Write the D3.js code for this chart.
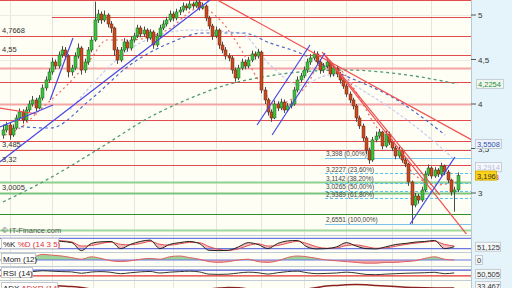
<!DOCTYPE html>
<html>
<head>
<meta charset="utf-8">
<script src="https://d3js.org/d3.v7.min.js"></script>
<style>
html, body { margin: 0; padding: 0; background: #fff; overflow: hidden; }
svg { display: block; font-family: "Liberation Sans", Arial, sans-serif; }
</style>
</head>
<body>
<svg id="chart" width="512" height="288"></svg>
<script>
// Daily candles (prices in EUR)
var opens = [3.650,3.708,3.764,3.652,3.730,3.843,3.910,3.820,3.933,4.000,
  4.045,3.955,4.067,4.180,4.270,4.360,4.472,4.427,4.551,4.607,
  4.539,4.360,4.404,4.539,4.629,4.382,4.472,4.607,4.719,4.944,
  5.011,4.944,5.000,4.899,4.854,4.607,4.494,4.607,4.697,4.629,
  4.719,4.764,4.854,4.787,4.831,4.742,4.809,4.663,4.764,4.854,
  4.899,4.944,5.011,4.966,5.034,5.056,5.101,5.079,5.124,5.101,
  5.146,5.079,5.101,4.966,4.876,4.764,4.831,4.663,4.607,4.539,
  4.517,4.382,4.292,4.404,4.472,4.427,4.494,4.562,4.539,4.584,
  4.157,4.045,3.910,3.843,4.000,3.955,4.022,3.933,3.978,4.000,
  4.157,4.270,4.315,4.382,4.472,4.517,4.562,4.472,4.382,4.427,
  4.472,4.337,4.404,4.337,4.270,4.202,4.112,4.045,3.978,3.843,
  3.753,3.618,3.483,3.371,3.596,3.640,3.685,3.528,3.663,3.573,
  3.506,3.416,3.483,3.371,3.326,3.124,2.865,2.966,2.921,3.034,
  3.213,3.281,3.191,3.258,3.213,3.303,3.236,3.146,3.011,3.034]
var closes = [3.708,3.764,3.652,3.730,3.843,3.910,3.820,3.933,4.000,4.045,
  3.955,4.067,4.180,4.270,4.360,4.472,4.427,4.551,4.607,4.539,
  4.360,4.404,4.539,4.629,4.382,4.472,4.607,4.719,4.944,5.011,
  4.944,5.000,4.899,4.854,4.607,4.494,4.607,4.697,4.629,4.719,
  4.764,4.854,4.787,4.831,4.742,4.809,4.663,4.764,4.854,4.899,
  4.944,5.011,4.966,5.034,5.056,5.101,5.079,5.124,5.101,5.146,
  5.079,5.101,4.966,4.876,4.764,4.831,4.663,4.607,4.539,4.517,
  4.382,4.292,4.404,4.472,4.427,4.494,4.562,4.539,4.584,4.157,
  4.045,3.910,3.843,4.000,3.955,4.022,3.933,3.978,4.000,4.157,
  4.270,4.315,4.382,4.472,4.517,4.562,4.472,4.382,4.427,4.472,
  4.337,4.404,4.337,4.270,4.202,4.112,4.045,3.978,3.843,3.753,
  3.618,3.483,3.371,3.596,3.640,3.685,3.528,3.663,3.573,3.506,
  3.416,3.483,3.371,3.326,3.124,2.865,2.966,2.921,3.034,3.213,
  3.281,3.191,3.258,3.213,3.303,3.236,3.146,3.011,3.034,3.196]
var highs = [3.760,3.800,3.790,3.770,3.880,3.950,3.940,3.970,4.040,4.090,
  4.070,4.100,4.220,4.310,4.400,4.520,4.500,4.590,4.650,4.640,
  4.560,4.440,4.580,4.680,4.650,4.510,4.640,4.760,5.150,5.060,
  5.040,5.050,5.020,4.930,4.870,4.640,4.640,4.740,4.720,4.760,
  4.800,4.890,4.880,4.870,4.850,4.840,4.830,4.800,4.890,4.940,
  4.980,5.050,5.040,5.070,5.090,5.140,5.130,5.160,5.150,5.180,
  5.170,5.140,5.120,4.990,4.900,4.870,4.850,4.700,4.640,4.570,
  4.540,4.410,4.440,4.510,4.500,4.530,4.600,4.590,4.620,4.600,
  4.190,4.070,3.940,4.040,4.030,4.060,4.050,4.010,4.040,4.190,
  4.310,4.350,4.420,4.510,4.560,4.600,4.590,4.500,4.460,4.510,
  4.490,4.440,4.430,4.360,4.290,4.230,4.140,4.070,4.000,3.870,
  3.780,3.640,3.510,3.630,3.690,3.720,3.700,3.700,3.690,3.600,
  3.530,3.520,3.500,3.400,3.340,3.140,3.000,2.990,3.070,3.250,
  3.320,3.300,3.290,3.280,3.340,3.320,3.260,3.160,3.070,3.230]
var lows = [3.610,3.680,3.600,3.630,3.710,3.820,3.780,3.800,3.910,3.970,
  3.920,3.940,4.040,4.150,4.240,4.330,4.390,4.400,4.520,4.500,
  4.300,4.320,4.380,4.510,4.330,4.350,4.440,4.580,4.700,4.910,
  4.900,4.920,4.860,4.800,4.540,4.450,4.470,4.580,4.590,4.600,
  4.690,4.740,4.750,4.760,4.700,4.720,4.620,4.640,4.740,4.830,
  4.870,4.920,4.930,4.940,5.000,5.030,5.050,5.060,5.070,5.080,
  5.050,5.060,4.930,4.840,4.720,4.740,4.620,4.570,4.500,4.480,
  4.340,4.250,4.270,4.380,4.390,4.400,4.470,4.500,4.510,4.120,
  4.000,3.870,3.800,3.830,3.920,3.930,3.900,3.910,3.950,3.980,
  4.130,4.240,4.290,4.350,4.440,4.490,4.440,4.340,4.350,4.400,
  4.300,4.310,4.300,4.230,4.170,4.080,4.010,3.940,3.800,3.720,
  3.580,3.440,3.330,3.350,3.570,3.610,3.490,3.510,3.540,3.470,
  3.380,3.390,3.340,3.290,3.080,2.655,2.840,2.880,2.900,3.010,
  3.190,3.160,3.170,3.180,3.190,3.200,3.110,2.970,2.790,3.010]

// month separators (candle index)
var monthIdx = [2, 15, 27.5, 40, 52, 65, 79, 92, 105, 119, 131]

// price axis
var priceTicks = [5, 4.5, 4, 3.5, 3]
var priceTickLabels = ['5', '4,5', '4', '3,5', '3']

// support / resistance levels
var redLevels = [5.17, 4.98, 4.7668, 4.55, 4.25, 3.82, 3.585, 3.485, 3.32]
var redLevelFrom = [0, 15, 0, 0, 0, 0, 0, 0, 0]
var pinkLevels = [4.40, 4.0]
var greenLevels = [3.124, 3.0005, 2.764, 2.584]
var greenColors = ['#8fd08f', '#7cc47c', '#2f8f2f', '#9ed89e']
var levelLabelPrices = [4.7668, 4.55, 3.485, 3.32, 3.0005]
var levelLabels = ['4,7668', '4,55', '3,485', '3,32', '3,0005']

// Fibonacci retracement
var fibPrices = [3.398, 3.2227, 3.1142, 3.0265, 2.9389, 2.6551]
var fibLabels = ['3,398 (0,00%)', '3,2227 (23,60%)', '3,1142 (38,20%)', '3,0265 (50,00%)', '2,9389 (61,80%)', '2,6551 (100,00%)']
var fibFrom = 98.5

// moving averages as [index, price]
var maShort = [[0.6,3.652],[5.2,3.730],[11.3,3.933],[19.6,4.213],[26.6,4.494],[31.8,4.719],[38.8,4.719],[50.2,4.831],[60.2,5.079],[66.4,4.944],[71.6,4.685],[78.6,4.236],[83.2,3.989],[87.8,4.045],[93,4.213],[96.9,4.438],[103.1,4.382],[107.6,4.157],[113.8,3.764],[119.9,3.483],[126,3.202],[132.1,3.090],[139,3.124]]
var maMid = [[0,3.764],[14.4,3.730],[26.6,4.045],[38.8,4.438],[51,4.685],[61.2,4.798],[73.4,4.798],[81.7,4.685],[90.8,4.573],[100.9,4.382],[120.5,4.045],[135.2,3.652]]
var maLight = [[20.5,3.933],[41.9,4.685],[57.2,4.831],[72.5,4.798],[81.7,4.438],[90.8,4.213],[100,4.326],[112.2,4.101],[127.5,3.708],[138.2,3.371]]
var maLong = [[0,2.899],[14.4,3.169],[29.7,3.506],[45,3.854],[56,4.045],[69.4,4.225],[77.7,4.292],[90.8,4.360],[105,4.382],[121.4,4.337],[139,4.2254]]

// trend lines as [index, price] pairs
var redTrends = [[[62,5.24],[143.4,3.596]], [[97.6,4.584],[142.2,2.517]], [[98.5,4.551],[133.6,2.978]], [[-1,3.955],[10.4,3.888]]]
var blueTrends = [[[-1,3.348],[63.3,5.169]], [[14.4,4.045],[21.4,4.742]], [[-1,3.742],[15.3,3.989]],
  [[77.7,3.764],[93.9,4.663]], [[82.3,3.652],[98.5,4.573]], [[124.5,2.652],[138.2,3.404]]]

// indicators, one value every 3 candles
var stochK = [60,50,70,65,75,70,62,55,8,50,60,62,20,45,62,70,20,45,55,62,50,10,8,10,30,55,44,20,50,65,68,30,18,20,30,55,35,20,18,30,44,50,58,62,68,20,31]
var stochD = [58,55,60,62,68,70,66,60,35,38,50,58,45,42,50,62,45,40,48,56,55,32,15,10,18,38,48,35,38,52,62,50,30,22,24,38,42,32,22,24,34,44,52,58,63,45,35]
var momentum = [0.3,0.5,0.6,0.4,0.7,0.6,0.5,0.3,0.1,0.4,0.2,-0.1,-0.2,-0.1,0.1,0.2,0.1,0.4,0.5,0.3,0.1,-0.2,-0.3,-0.2,0.0,0.1,-0.2,-0.3,-0.1,0.3,0.5,0.4,0.2,0.0,-0.1,-0.2,-0.3,-0.4,-0.4,-0.3,-0.3,-0.2,-0.1,0.2,0.4,0.1,0.0]
var rsi = [55,58,62,60,66,63,60,58,48,57,60,55,45,52,58,61,50,56,60,63,58,42,40,42,50,56,52,42,52,60,63,52,45,47,50,56,50,40,38,42,45,48,50,52,55,45,50.5]
var adx = [30,32,35,38,40,42,40,38,35,30,28,25,22,20,18,17,16,18,22,25,28,30,33,35,34,30,26,22,20,22,25,30,35,40,42,44,45,44,42,40,38,36,35,34,33.5,33.5,33.5]

var W = 512, H = 288
var plotRight = 471
var mainBottom = 234
var svg = d3.select('#chart')

var x = d3.scaleLinear().domain([0, 139]).range([3, 457.5])
var y = d3.scaleLinear().domain([3, 5]).range([193, 15])
var yK = d3.scaleLinear().domain([0, 100]).range([252, 235])
var yM = d3.scaleLinear().domain([-0.5, 1]).range([264, 252])
var yR = d3.scaleLinear().domain([0, 100]).range([280, 266])
var yA = d3.scaleLinear().domain([0, 60]).range([298, 280])

// backgrounds
svg.append('rect').attr('width', W).attr('height', H).attr('fill', '#fffef4')
svg.append('rect').attr('x', plotRight).attr('width', W - plotRight).attr('height', H).attr('fill', '#e4f4fa')
svg.append('line').attr('x1', plotRight + 0.5).attr('x2', plotRight + 0.5).attr('y1', 0).attr('y2', H).attr('stroke', '#b8c8d0')

var defs = svg.append('defs')
defs.append('clipPath').attr('id', 'clipMain').append('rect').attr('width', plotRight).attr('height', mainBottom)
defs.append('clipPath').attr('id', 'clipInd').append('rect').attr('y', 235).attr('width', plotRight).attr('height', H - 235)

// grid
svg.append('g').selectAll('line').data(monthIdx).join('line')
  .attr('x1', function(d) { return Math.round(x(d)) + 0.5 })
  .attr('x2', function(d) { return Math.round(x(d)) + 0.5 })
  .attr('y1', 0).attr('y2', H).attr('stroke', '#e6e6dc')
svg.append('g').selectAll('line').data(priceTicks).join('line')
  .attr('x1', 0).attr('x2', plotRight)
  .attr('y1', function(d) { return Math.round(y(d)) + 0.5 })
  .attr('y2', function(d) { return Math.round(y(d)) + 0.5 })
  .attr('stroke', '#ececE4')

var main = svg.append('g').attr('clip-path', 'url(#clipMain)')

function hline(g, p, from, color, w, dash) {
  g.append('line')
    .attr('x1', from).attr('x2', plotRight)
    .attr('y1', Math.round(y(p)) + 0.5).attr('y2', Math.round(y(p)) + 0.5)
    .attr('stroke', color).attr('stroke-width', w)
    .attr('stroke-dasharray', dash || null)
}

// levels
pinkLevels.forEach(function(p) { hline(main, p, 0, '#f5a5a5', 2) })
redLevels.forEach(function(p, i) { hline(main, p, redLevelFrom[i] ? x(redLevelFrom[i]) : 0, '#e24b4b', 1) })
greenLevels.forEach(function(p, i) { hline(main, p, 0, greenColors[i], i == 2 ? 1.2 : 2) })

// fibonacci
fibPrices.forEach(function(p, i) {
  var solid = (i == 0 || i == fibPrices.length - 1)
  hline(main, p, x(fibFrom), solid ? '#7cc4ec' : '#55c2f2', 1, solid ? null : '3,2')
})
main.append('g').selectAll('text').data(fibPrices).join('text')
  .attr('x', x(fibFrom) + 1).attr('y', function(d) { return y(d) - 1.5 })
  .attr('font-size', 6.5).attr('fill', '#444')
  .text(function(d, i) { return fibLabels[i] })

// moving averages
var maLine = d3.line().x(function(d) { return x(d[0]) }).y(function(d) { return y(d[1]) }).curve(d3.curveMonotoneX)
function ma(data, color, dash, w) {
  main.append('path').attr('d', maLine(data)).attr('fill', 'none')
    .attr('stroke', color).attr('stroke-width', w || 1.2).attr('stroke-dasharray', dash)
}
ma(maLong, '#4f9a72', '3,3', 1.3)
ma(maLight, '#c2ccf2', '3,2')
ma(maMid, '#4a66c4', '3,3')
ma(maShort, '#f06a6a', '2,3')

// candles
var idx = d3.range(closes.length)
main.append('g').selectAll('line').data(idx).join('line')
  .attr('x1', function(i) { return Math.round(x(i)) + 0.5 })
  .attr('x2', function(i) { return Math.round(x(i)) + 0.5 })
  .attr('y1', function(i) { return y(highs[i]) })
  .attr('y2', function(i) { return y(lows[i]) })
  .attr('stroke', '#4a4a4a')
main.append('g').selectAll('rect').data(idx).join('rect')
  .attr('x', function(i) { return Math.round(x(i)) - 1 })
  .attr('width', 3)
  .attr('y', function(i) { return y(Math.max(opens[i], closes[i])) })
  .attr('height', function(i) { return Math.max(1, Math.abs(y(opens[i]) - y(closes[i]))) })
  .attr('fill', function(i) { return closes[i] >= opens[i] ? '#3cc23c' : '#c8481f' })
  .attr('stroke', function(i) { return closes[i] >= opens[i] ? '#24602a' : '#6a2a14' })
  .attr('stroke-width', 0.5)

// trend lines
var tLine = d3.line().x(function(d) { return x(d[0]) }).y(function(d) { return y(d[1]) })
main.append('g').selectAll('path').data(redTrends).join('path')
  .attr('d', tLine).attr('stroke', '#f05050').attr('stroke-width', 1.2).attr('fill', 'none')
main.append('g').selectAll('path').data(blueTrends).join('path')
  .attr('d', tLine).attr('stroke', '#4848e6').attr('stroke-width', 1.2).attr('fill', 'none')

// level labels
svg.append('g').selectAll('text').data(levelLabelPrices).join('text')
  .attr('x', 2).attr('y', function(d) { return y(d) - 3 })
  .attr('font-size', 7.5).attr('fill', '#333')
  .text(function(d, i) { return levelLabels[i] })

svg.append('text').attr('x', 2).attr('y', 233).attr('font-size', 7.5).attr('fill', '#555').text('\u00a9 IT-Finance.com')

// price axis
svg.append('g').selectAll('line').data(priceTicks).join('line')
  .attr('x1', plotRight).attr('x2', plotRight + 5)
  .attr('y1', function(d) { return y(d) }).attr('y2', function(d) { return y(d) })
  .attr('stroke', '#555')
svg.append('g').selectAll('text').data(priceTicks).join('text')
  .attr('x', plotRight + 7).attr('y', function(d) { return y(d) + 3 })
  .attr('font-size', 8).attr('fill', '#333')
  .text(function(d, i) { return priceTickLabels[i] })

function tag(px, py, w, txt, fill, color, stroke) {
  svg.append('rect').attr('x', px + 0.5).attr('y', py + 0.5).attr('width', w).attr('height', 9)
    .attr('fill', fill).attr('stroke', stroke || '#c4ccd4')
  svg.append('text').attr('x', px + 2).attr('y', py + 8).attr('font-size', 7.5).attr('fill', color).text(txt)
}
tag(476, y(4.2254) - 5, 27, '4,2254', '#eef8ee', '#2d8a3a')
tag(475, y(3.5508) - 5, 26, '3,5508', '#eef2fa', '#3554b0')
tag(475, y(3.2914) - 5, 26, '3,2914', '#f6f8fb', '#b4bcdc')
svg.append('text').attr('x', 476).attr('y', y(3.196) + 4).attr('font-size', 7.5).attr('fill', '#e03030').text('3,1933')
tag(475, y(3.196) - 5, 21, '3,196', '#ffd21a', '#333', '#d8b000')

// indicator panels
var ind = svg.append('g').attr('clip-path', 'url(#clipInd)')
;[235, 252, 266, 280].forEach(function(py) {
  svg.append('line').attr('x1', 0).attr('x2', plotRight).attr('y1', py + 0.5).attr('y2', py + 0.5).attr('stroke', '#c0ccd6')
})
var ix = function(d, k) { return x(k * 3) }

// stochastic
ind.append('path').attr('d', d3.area().x(ix).y0(function(d, k) { return yK(stochD[k]) }).y1(function(d) { return yK(d) }).curve(d3.curveMonotoneX)(stochK))
  .attr('fill', '#f6bcbc')
;[80, 20].forEach(function(v) {
  ind.append('line').attr('x1', 0).attr('x2', plotRight).attr('y1', yK(v)).attr('y2', yK(v)).attr('stroke', '#6a78e2').attr('stroke-width', 1.2)
})
ind.append('path').attr('d', d3.line().x(ix).y(function(d) { return yK(d) }).curve(d3.curveMonotoneX)(stochD)).attr('fill', 'none').attr('stroke', '#e05050')
ind.append('path').attr('d', d3.line().x(ix).y(function(d) { return yK(d) }).curve(d3.curveMonotoneX)(stochK)).attr('fill', 'none').attr('stroke', '#222')

// momentum
ind.append('path').attr('d', d3.area().x(ix).y0(yM(0)).y1(function(d) { return yM(Math.max(d, 0)) }).curve(d3.curveMonotoneX)(momentum)).attr('fill', '#9cd49c')
ind.append('path').attr('d', d3.area().x(ix).y0(yM(0)).y1(function(d) { return yM(Math.min(d, 0)) }).curve(d3.curveMonotoneX)(momentum)).attr('fill', '#f2a6a6')
ind.append('line').attr('x1', 0).attr('x2', plotRight).attr('y1', yM(0)).attr('y2', yM(0)).attr('stroke', '#6a78e2').attr('stroke-width', 1.2)
ind.append('path').attr('d', d3.line().x(ix).y(function(d) { return yM(d) }).curve(d3.curveMonotoneX)(momentum)).attr('fill', 'none').attr('stroke', '#e06060')

// rsi
ind.append('line').attr('x1', 0).attr('x2', plotRight).attr('y1', yR(70)).attr('y2', yR(70)).attr('stroke', '#4a58d8').attr('stroke-width', 1.2)
ind.append('line').attr('x1', 0).attr('x2', plotRight).attr('y1', yR(30)).attr('y2', yR(30)).attr('stroke', '#e03030').attr('stroke-width', 1.2)
ind.append('path').attr('d', d3.line().x(ix).y(function(d) { return yR(d) }).curve(d3.curveMonotoneX)(rsi)).attr('fill', 'none').attr('stroke', '#333')

// adx
ind.append('path').attr('d', d3.line().x(ix).y(function(d) { return yA(d) }).curve(d3.curveMonotoneX)(adx)).attr('fill', 'none').attr('stroke', '#8a2020').attr('stroke-width', 1.5)

// indicator labels
function label(px, py, parts, w) {
  svg.append('rect').attr('x', px + 0.5).attr('y', py + 0.5).attr('width', w).attr('height', 10).attr('fill', '#fff').attr('stroke', '#c4c8cc')
  var t = svg.append('text').attr('x', px + 2).attr('y', py + 8.5).attr('font-size', 8)
  parts.forEach(function(p) { t.append('tspan').attr('fill', p[1]).text(p[0]) })
}
label(1, 238, [['%K ', '#222'], ['%D (14 3 5)', '#e03030']], 57)
label(1, 253, [['Mom (12)', '#222']], 34)
label(1, 267, [['RSI (14)', '#222']], 31)
label(1, 282, [['ADX ', '#222'], ['ADXR (14)', '#e03030']], 56)

tag(475, yK(stochK[stochK.length - 1]) - 5, 25, '51,125', '#f4f6f8', '#333')
tag(475, yM(0) - 5, 7, '0', '#f4f6f8', '#333')
tag(475, yR(rsi[rsi.length - 1]) - 4, 25, '50,505', '#f4f6f8', '#333')
tag(475, 281, 25, '33,467', '#f4f6f8', '#333')
</script>
</body>
</html>
